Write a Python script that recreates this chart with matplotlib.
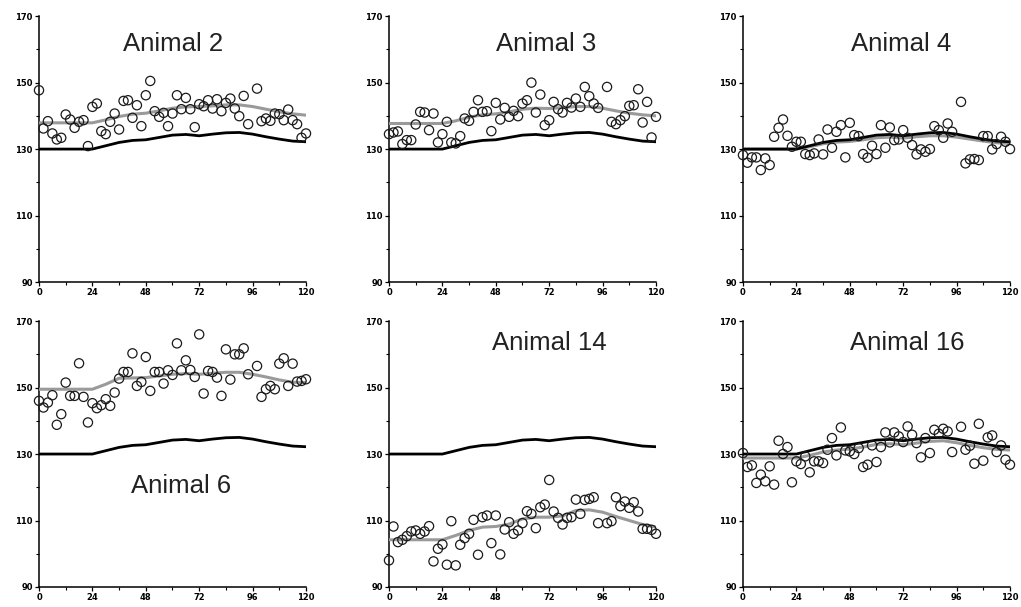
import numpy as np
import matplotlib.pyplot as plt
from matplotlib.ticker import MultipleLocator

# sampling hours of the measurements (every 2 h, 96 h missing)
hours = list(range(0, 122, 2))
nan = np.nan

animal_2 = [147.7, 136.2, 138.4, 134.7, 132.9, 133.4, 140.4, 138.9, 136.4, 138.2,
            138.7, 130.9, 142.7, 143.7, 135.4, 134.5, 138.2, 140.7, 135.9, 144.5,
            144.7, 139.4, 143.2, 136.9, 146.2, 150.5, 141.4, 139.7, 140.9, 136.9,
            140.7, 146.2, 142.0, 145.4, 142.0, 136.6, 143.5, 142.9, 144.7, 142.2,
            145.0, 141.4, 143.9, 145.2, 142.2, 139.9, 146.0, 137.5, nan, 148.2,
            138.4, 139.2, 138.5, 140.7, 140.5, 138.7, 141.9, 138.7, 137.5, 133.4,
            134.7]

animal_3 = [134.5, 135.0, 135.3, 131.5, 132.7, 132.7, 137.4, 141.2, 141.0, 135.7,
            140.7, 132.0, 134.5, 138.2, 132.0, 131.7, 133.9, 139.2, 138.5, 141.2,
            144.7, 141.2, 141.4, 135.4, 143.9, 138.9, 142.4, 139.7, 141.5, 139.9,
            143.7, 144.7, 150.0, 141.0, 146.4, 137.2, 138.7, 144.2, 142.0, 141.0,
            143.9, 142.5, 145.2, 142.7, 148.7, 145.9, 143.7, 142.4, nan, 148.7,
            138.2, 137.5, 138.7, 139.9, 143.0, 143.2, 148.0, 138.0, 144.2, 133.5,
            139.7]

animal_4 = [128.2, 125.9, 127.5, 127.5, 123.7, 127.2, 125.2, 133.7, 136.4, 138.9,
            134.0, 130.7, 132.2, 132.2, 128.5, 128.2, 128.7, 132.9, 128.4, 135.9,
            130.4, 135.2, 137.2, 127.5, 137.9, 134.2, 133.9, 128.5, 127.4, 131.0,
            128.5, 137.2, 130.4, 136.5, 132.7, 132.9, 135.7, 133.4, 131.2, 128.4,
            129.9, 129.2, 130.0, 136.9, 135.7, 133.4, 137.7, 135.2, nan, 144.2,
            125.7, 126.9, 127.0, 126.7, 133.9, 133.9, 129.9, 131.5, 133.7, 132.2,
            130.0]

animal_6 = [146.0, 144.0, 145.5, 147.7, 138.8, 142.0, 151.5, 147.5, 147.5, 157.3,
            147.2, 139.5, 145.3, 143.8, 144.7, 146.5, 144.5, 148.5, 152.7, 154.7,
            154.7, 160.3, 150.5, 151.7, 159.2, 149.0, 154.7, 154.7, 151.2, 155.2,
            153.8, 163.3, 155.2, 158.2, 155.3, 153.2, 166.0, 148.2, 155.0, 154.7,
            153.0, 147.5, 161.5, 152.4, 160.0, 160.0, 161.8, 154.0, nan, 156.5,
            147.2, 149.5, 150.5, 149.5, 157.2, 158.8, 150.5, 157.2, 151.8, 152.0,
            152.5]

animal_14 = [98.0, 108.2, 103.5, 104.2, 105.3, 106.7, 107.0, 106.0, 106.7, 108.3,
             97.7, 101.5, 102.8, 96.7, 109.8, 96.5, 102.7, 104.7, 106.0, 110.2,
             99.7, 111.0, 111.5, 103.2, 111.5, 99.8, 107.3, 109.5, 106.0, 107.0,
             109.2, 112.8, 112.0, 107.7, 114.0, 114.8, 122.2, 112.7, 110.8, 108.8,
             110.8, 111.0, 116.3, 112.0, 116.2, 116.5, 117.0, 109.2, nan, 109.2,
             109.8, 117.0, 114.3, 115.7, 113.8, 115.5, 112.7, 107.5, 107.5, 107.2,
             106.0]

animal_16 = [130.3, 126.1, 126.6, 121.3, 123.8, 121.8, 126.3, 120.8, 134.0, 130.0,
             132.1, 121.5, 127.8, 127.0, 129.3, 124.5, 127.8, 127.8, 127.3, 131.3,
             134.8, 129.6, 138.0, 131.1, 130.8, 130.0, 131.8, 126.1, 126.8, 132.6,
             127.6, 132.1, 136.5, 133.5, 136.5, 135.3, 133.6, 138.3, 135.8, 133.3,
             129.0, 134.8, 130.3, 137.3, 136.1, 137.6, 136.8, 130.6, nan, 138.2,
             131.3, 132.5, 127.1, 139.1, 128.0, 135.0, 135.6, 130.6, 132.6, 128.3,
             126.8]

# smooth curves, read every 6 h
curve_hours = list(range(0, 126, 6))
reference = [130.0, 130.0, 130.0, 130.0, 130.0, 131.0, 132.0, 132.6, 132.8, 133.5,
             134.2, 134.4, 134.0, 134.5, 134.9, 135.0, 134.5, 133.7, 133.0, 132.4,
             132.2]
fit_2 = [137.9, 137.9, 137.9, 137.9, 137.9, 138.8, 139.8, 140.5, 140.8, 141.5,
         142.3, 142.7, 142.8, 143.0, 143.3, 143.3, 142.8, 142.0, 141.2, 140.6, 140.2]
fit_3 = [137.7, 137.7, 137.7, 137.7, 137.7, 138.5, 139.6, 140.3, 140.6, 141.2,
         142.0, 142.3, 142.2, 142.5, 142.8, 142.8, 142.3, 141.5, 140.8, 140.3, 140.0]
fit_4 = [130.0, 130.0, 130.0, 130.0, 130.0, 130.7, 131.6, 132.1, 132.3, 132.8,
         133.4, 133.6, 133.3, 133.7, 134.0, 134.0, 133.6, 133.0, 132.4, 131.9, 131.7]
fit_6 = [149.5, 149.5, 149.5, 149.5, 149.5, 151.0, 152.8, 152.9, 153.0, 153.5,
         154.0, 154.2, 154.0, 154.3, 154.6, 154.6, 154.0, 153.2, 152.3, 151.6, 151.5]
fit_14 = [104.2, 104.2, 104.2, 104.2, 104.2, 105.5, 107.0, 108.0, 108.2, 108.9,
          110.5, 111.0, 111.0, 111.4, 113.0, 113.2, 112.5, 111.2, 110.0, 108.8, 108.0]
fit_16 = [128.8, 128.8, 128.8, 128.8, 128.8, 129.6, 130.6, 131.2, 131.5, 132.1,
          132.9, 133.1, 132.8, 133.3, 133.8, 134.0, 133.4, 132.6, 131.9, 131.4, 131.2]

y_ticks = [90, 110, 130, 150, 170]
y_minor = [100, 120, 140, 160]

panels = [
    ('Animal 2', animal_2, fit_2, (60.4, 161.6)),
    ('Animal 3', animal_3, fit_3, (70.6, 161.6)),
    ('Animal 4', animal_4, fit_4, (71.0, 161.6)),
    ('Animal 6', animal_6, fit_6, (63.8, 120.4)),
    ('Animal 14', animal_14, fit_14, (72.1, 163.5)),
    ('Animal 16', animal_16, fit_16, (73.7, 163.5)),
]

lefts = [0.0382, 0.381, 0.7277]
bottoms = [0.5354, 0.033]
width, height = 0.2615, 0.438


def draw_panel(ax, name, values, fit, label_pos):
    ax.plot(curve_hours, fit, color='#9a9a9a', lw=2.2, zorder=3)
    ax.plot(curve_hours, reference, color='black', lw=2.0, zorder=4)
    ax.scatter(hours, values, s=44, facecolors='none', edgecolors='#1a1a1a',
               linewidths=0.9, zorder=5, clip_on=False)
    ax.text(label_pos[0], label_pos[1], name, fontsize=18.5, ha='center',
            va='center', family='Liberation Sans', color='#222222')

    ax.set_xlim(0, 120)
    ax.set_ylim(90, 170)
    ax.xaxis.set_major_locator(MultipleLocator(24))
    ax.xaxis.set_minor_locator(MultipleLocator(12))
    ax.set_yticks(y_ticks)
    ax.set_yticks(y_minor, minor=True)
    for side in ['top', 'right']:
        ax.spines[side].set_visible(False)
    for side in ['left', 'bottom']:
        ax.spines[side].set_linewidth(1.1)
    ax.tick_params(which='major', direction='out', length=3, width=0.9,
                   labelsize=6, pad=1.5)
    ax.tick_params(which='minor', direction='out', length=2, width=0.8)
    for lbl in ax.get_xticklabels() + ax.get_yticklabels():
        lbl.set_fontweight('bold')


fig = plt.figure(figsize=(10.21, 6.07), dpi=100)
for i, (name, values, fit, pos) in enumerate(panels):
    row, col = divmod(i, 3)
    ax = fig.add_axes([lefts[col], bottoms[row], width, height])
    draw_panel(ax, name, values, fit, pos)

fig.savefig('out.png', dpi=100)
